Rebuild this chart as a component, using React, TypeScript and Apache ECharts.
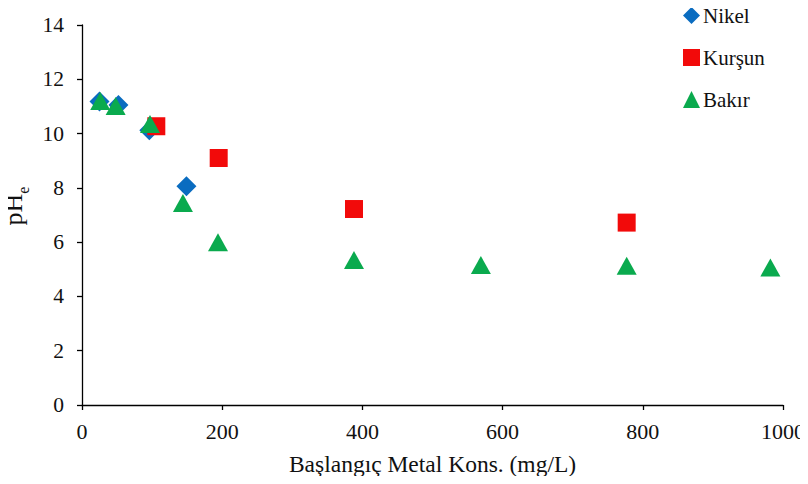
import React, { useEffect, useRef } from "react";
import * as echarts from "echarts";

// Initial metal concentration (mg/L) and equilibrium pH for each metal
const nikelX = [25, 52, 96, 149];
const nikelY = [11.18, 11.05, 10.12, 8.06];

const kursunX = [106, 195, 388, 777];
const kursunY = [10.27, 9.1, 7.22, 6.72];

const bakirX = [26, 48, 97, 144, 194, 388, 569, 777, 982];
const bakirY = [11.2, 11.02, 10.35, 7.44, 6.0, 5.34, 5.16, 5.13, 5.07];

const xTicks = { min: 0, max: 1000, interval: 200 };
const yTicks = { min: 0, max: 14, interval: 2 };

const FONT = "Liberation Serif";

const zip = (xs: number[], ys: number[]) => xs.map((x, i) => [x, ys[i]]);

export default function App() {
  const ref = useRef<HTMLDivElement>(null);

  useEffect(() => {
    if (!ref.current) return;
    const chart = echarts.init(ref.current, undefined, { renderer: "svg" });
    const axisCommon = {
      axisLine: { show: true, lineStyle: { color: "#000", width: 1.3 } },
      axisTick: { show: true, inside: false, length: 5, lineStyle: { color: "#000", width: 1.3 } },
      splitLine: { show: false },
      axisLabel: { color: "#111", fontFamily: FONT, fontSize: 21, formatter: (v: number) => String(v) },
    };
    chart.setOption({
      animation: false,
      backgroundColor: "#fff",
      grid: { left: 82, right: 25, top: 25, bottom: 79, containLabel: false, outerBoundsMode: "none" },
      legend: {
        orient: "vertical",
        left: 678,
        top: 0,
        itemWidth: 17,
        itemHeight: 17,
        itemGap: 21,
        textStyle: { color: "#111", fontFamily: FONT, fontSize: 21, padding: [0, 0, 0, -2] },
        data: [
          { name: "Nikel", icon: "diamond" },
          { name: "Kurşun", icon: "rect" },
          { name: "Bakır", icon: "triangle" },
        ],
      },
      xAxis: {
        type: "value",
        ...xTicks,
        ...axisCommon,
        axisLabel: { ...axisCommon.axisLabel, margin: 15, fontSize: 22 },
        name: "Başlangıç Metal Kons. (mg/L)",
        nameLocation: "middle",
        nameGap: 47,
        nameTextStyle: { color: "#111", fontFamily: FONT, fontSize: 23.5 },
      },
      yAxis: {
        type: "value",
        ...yTicks,
        ...axisCommon,
        axisLabel: { ...axisCommon.axisLabel, margin: 18, fontSize: 21.5 },
        name: "{a|pH}{b|e}",
        nameLocation: "middle",
        nameRotate: 90,
        nameGap: 53,
        nameTextStyle: {
          color: "#111",
          fontFamily: FONT,
          padding: [0, 0, 0, 18],
          rich: {
            a: { fontFamily: FONT, fontSize: 26, color: "#111", verticalAlign: "bottom" },
            b: { fontFamily: FONT, fontSize: 16, color: "#111", verticalAlign: "bottom", padding: [0, 0, -5, 0] },
          },
        },
      },
      series: [
        {
          name: "Nikel",
          type: "scatter",
          symbol: "diamond",
          symbolSize: [20, 20],
          itemStyle: { color: "#0A6CC0", opacity: 1 },
          data: zip(nikelX, nikelY),
        },
        {
          name: "Kurşun",
          type: "scatter",
          symbol: "rect",
          symbolSize: [18, 18],
          itemStyle: { color: "#F20A0A", opacity: 1 },
          data: zip(kursunX, kursunY),
        },
        {
          name: "Bakır",
          type: "scatter",
          symbol: "triangle",
          symbolSize: [20, 18],
          itemStyle: { color: "#0AAA4E", opacity: 1 },
          data: zip(bakirX, bakirY),
        },
      ],
    });
    return () => chart.dispose();
  }, []);

  return <div ref={ref} style={{ width: 808, height: 484, margin: -8 }} />;
}
